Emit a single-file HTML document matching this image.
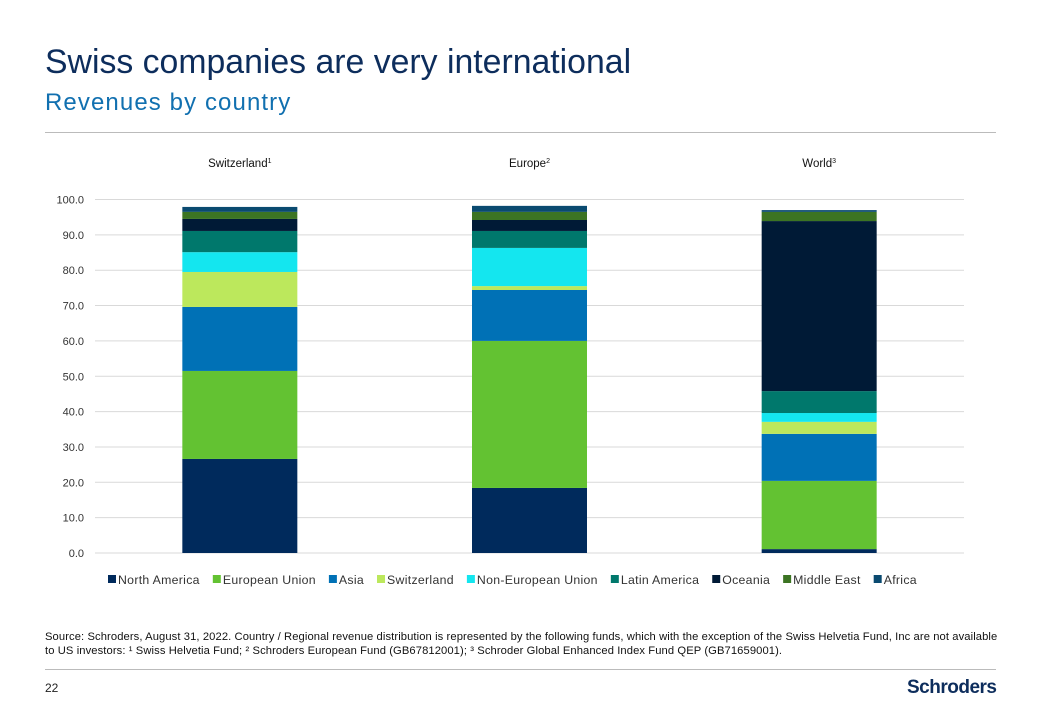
<!DOCTYPE html>
<html><head><meta charset="utf-8">
<style>
body{margin:0;width:1040px;height:720px;background:#fff;font-family:"Liberation Sans",sans-serif;position:relative;overflow:hidden}
.t{position:absolute;white-space:nowrap}
</style></head><body>
<div class="t" style="left:45px;top:43px;font-size:33.8px;color:#0d2d5c">Swiss companies are very international</div>
<div class="t" style="left:45px;top:89px;font-size:24px;color:#1170b0;letter-spacing:1.1px">Revenues by country</div>
<div style="position:absolute;left:45px;top:132px;width:951px;height:1px;background:#bbb"></div>
<svg id="chart" width="1040" height="600" style="position:absolute;left:0;top:0" font-family="Liberation Sans, sans-serif"></svg>
<div class="t" style="left:45px;top:630px;font-size:11.2px;color:#111;line-height:14px;letter-spacing:0.1px">Source: Schroders, August 31, 2022. Country / Regional revenue distribution is represented by the following funds, which with the exception of the Swiss Helvetia Fund, Inc are not available<br>to US investors: ¹ Swiss Helvetia Fund; ² Schroders European Fund (GB67812001); ³ Schroder Global Enhanced Index Fund QEP (GB71659001).</div>
<div style="position:absolute;left:45px;top:669px;width:951px;height:1px;background:#bbb"></div>
<div class="t" style="left:45px;top:681px;font-size:12px;color:#222">22</div>
<div class="t" style="left:907px;top:677px;font-size:19px;font-weight:bold;color:#0d2d5c;letter-spacing:-0.5px">Schroders</div>
<script>
const categories=["Switzerland","Europe","World"];
const sups=["1","2","3"];
const seriesNames=["North America","European Union","Asia","Switzerland","Non-European Union","Latin America","Oceania","Middle East","Africa"];
const colors=["#002a5c","#63c232","#0071b6","#bce85c","#14e6ef","#00786c","#001a36","#3c7423","#0a4a70"];
const northAmerica=[26.6,18.4,1.1];
const europeanUnion=[24.9,41.6,19.3];
const asia=[18.1,14.4,13.3];
const switzerland=[9.9,1.1,3.4];
const nonEU=[5.6,10.8,2.5];
const latinAmerica=[6.0,4.8,6.2];
const oceania=[3.4,3.1,48.1];
const middleEast=[2.0,2.3,2.6];
const africa=[1.4,1.7,0.5];
const yTicks=["0.0","10.0","20.0","30.0","40.0","50.0","60.0","70.0","80.0","90.0","100.0"];
const series=[northAmerica,europeanUnion,asia,switzerland,nonEU,latinAmerica,oceania,middleEast,africa];
const NS="http://www.w3.org/2000/svg";
const svg=document.getElementById('chart');
const x0=95,x1=964,yBase=553,yTop=199.5;
const y=v=>yBase-(v/100)*(yBase-yTop);
const band=(x1-x0)/categories.length;
const xc=i=>x0+band*(i+0.5);
const bw=115;
function mk(t,a){const e=document.createElementNS(NS,t);for(const k in a)e.setAttribute(k,a[k]);svg.appendChild(e);return e;}
yTicks.forEach((lab,i)=>{
  const v=parseFloat(lab);
  const l=mk('line',{x1:x0,x2:x1,y1:y(v),y2:y(v),stroke:'#d9d9d9','stroke-width':1});
  
  
  const t=mk('text',{x:84,y:y(v)+4,'text-anchor':'end','font-size':11,fill:'#333'});
  t.textContent=lab;
  
  
});
categories.forEach((c,i)=>{
  let cum=0;
  series.forEach((s,j)=>{
    const v=s[i];
    const r=mk('rect',{x:xc(i)-bw/2,y:y(cum+v),width:bw,height:y(cum)-y(cum+v),fill:colors[j]});
    
    
    cum+=v;
  });
  const t=mk('text',{x:xc(i),y:167,'text-anchor':'middle','font-size':11.5,fill:'#111'});
  t.innerHTML=c+'<tspan font-size="7" dy="-4">'+sups[i]+'</tspan>';
  
  
});
const g=document.createElementNS(NS,'g');svg.appendChild(g);


let lx=108;
seriesNames.forEach((n,j)=>{
  const r=document.createElementNS(NS,'rect');
  r.setAttribute('x',lx);r.setAttribute('y',575);r.setAttribute('width',8);r.setAttribute('height',8);r.setAttribute('fill',colors[j]);
  
  
  g.appendChild(r);
  const t=document.createElementNS(NS,'text');
  t.setAttribute('x',lx+10);t.setAttribute('y',584);t.setAttribute('font-size',12.3);t.setAttribute('fill','#333');t.setAttribute('letter-spacing','0.3');
  t.textContent=n;
  
  
  g.appendChild(t);
  lx+=10+t.getComputedTextLength()+13;
});
</script>
</body></html>
